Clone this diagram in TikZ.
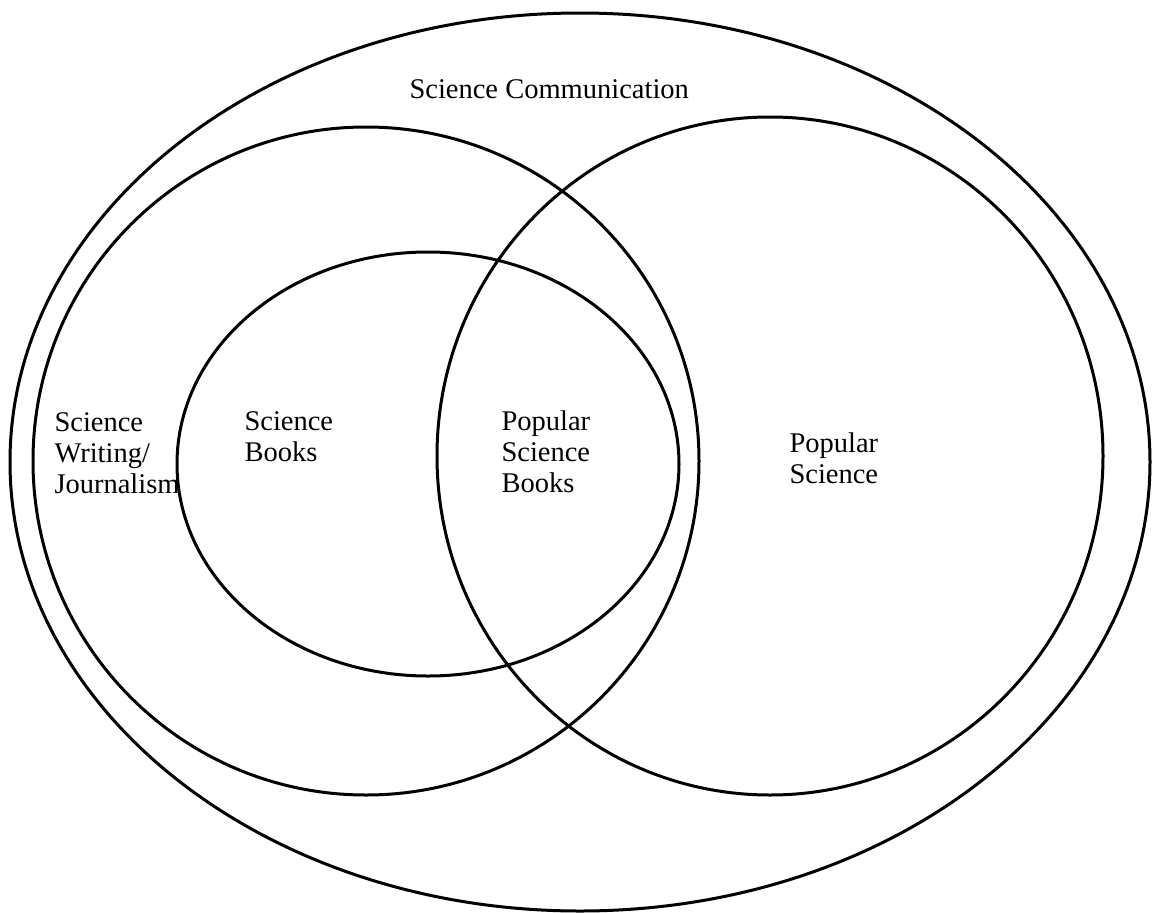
\documentclass[tikz,border=0pt]{standalone}
\usepackage{fontspec}
\setmainfont{Liberation Serif}
\usetikzlibrary{calc}

\begin{document}
\begin{tikzpicture}[x=1pt, y=-1pt, line width=3pt,
    every node/.style={font=\fontsize{28.5}{31}\selectfont, align=left, anchor=west, inner sep=0pt}]
    \useasboundingbox (0,0) rectangle (1157,913);

    \coordinate (comm) at (580,462);
    
    \coordinate (writing) at (366,461);
    
    \coordinate (popsci) at (770,456);
    
    \coordinate (books) at (428,464);
    
    \draw (comm) ellipse [x radius=570pt, y radius=449pt];
    \draw (writing) ellipse [x radius=333pt, y radius=334pt];
    \draw (popsci) ellipse [x radius=333pt, y radius=339pt];
    \draw (books) ellipse [x radius=251pt, y radius=212pt];
    
    \node (commlabel) at ($(comm) + (-172,-373)$) {Science Communication};
    
    \node (writinglabel) at ($(writing) + (-313,-8)$) {Science\\Writing/\\Journalism};
    
    \node (bookslabel) at ($(books) + (-185,-27)$) {Science\\Books};
    
    \node (popbookslabel) at ($(books) + (72,-12)$) {Popular\\Science\\Books};
    
    \node (popscilabel) at ($(popsci) + (18,2)$) {Popular\\Science};
    
\end{tikzpicture}
\end{document}
